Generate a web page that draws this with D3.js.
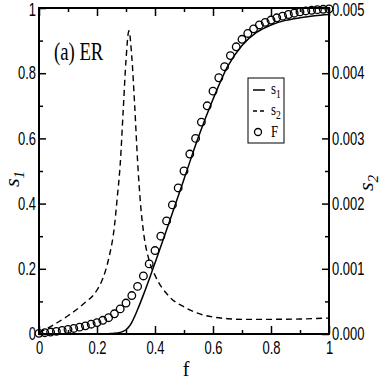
<!DOCTYPE html>
<html>
<head>
<meta charset="utf-8">
<script src="https://cdn.jsdelivr.net/npm/d3@7"></script>
<style>
  body { margin: 0; background: #fff; }
  svg { display: block; font-family: "Liberation Serif", "DejaVu Serif", serif; }
</style>
</head>
<body>
<div id="chart"></div>
<script>
// s1 (solid line, left axis)
const s1F = [0, 0.2, 0.24, 0.26, 0.28, 0.29, 0.30, 0.31, 0.32, 0.34, 0.36, 0.38, 0.40, 0.45, 0.50,
             0.55, 0.60, 0.65, 0.70, 0.75, 0.80, 0.85, 0.90, 0.95, 1.0];
const s1Val = [0, 0, 0.001, 0.002, 0.005, 0.008, 0.013, 0.022, 0.036, 0.075, 0.12, 0.168, 0.218, 0.345, 0.475,
               0.605, 0.72, 0.82, 0.885, 0.925, 0.948, 0.962, 0.97, 0.976, 0.98];

// s2 (dashed line, right axis)
const s2F = [0, 0.05, 0.10, 0.15, 0.20, 0.22, 0.24, 0.26, 0.27, 0.28, 0.29, 0.30, 0.31, 0.32, 0.33, 0.34,
             0.35, 0.36, 0.38, 0.40, 0.45, 0.50, 0.55, 0.60, 0.65, 0.70, 0.80, 0.90, 1.0];
const s2Val = [0.00002, 0.00014, 0.00028, 0.00045, 0.000675, 0.00085, 0.00115, 0.00165, 0.0021, 0.0026,
               0.0034, 0.0042, 0.00465, 0.00425, 0.0035, 0.00265, 0.002, 0.001575, 0.001125, 0.0009,
               0.00057, 0.000415, 0.000315, 0.00026, 0.000235, 0.000225, 0.000225, 0.00023, 0.000245];

// F (open circles, left axis)
const FF = [0, 0.02, 0.04, 0.06, 0.08, 0.10, 0.12, 0.14, 0.16, 0.18, 0.20, 0.22, 0.24, 0.26, 0.28, 0.30,
            0.32, 0.34, 0.36, 0.38, 0.40, 0.42, 0.44, 0.46, 0.48, 0.50, 0.52, 0.54, 0.56, 0.58, 0.60,
            0.62, 0.64, 0.66, 0.68, 0.70, 0.72, 0.74, 0.76, 0.78, 0.80, 0.82, 0.84, 0.86, 0.88, 0.90,
            0.92, 0.94, 0.96, 0.98, 1.0];
const FVal = [0.002, 0.004, 0.006, 0.008, 0.011, 0.014, 0.017, 0.021, 0.025, 0.030, 0.035, 0.042, 0.050,
              0.062, 0.077, 0.095, 0.118, 0.146, 0.178, 0.215, 0.256, 0.300, 0.347, 0.396, 0.448, 0.500,
              0.552, 0.600, 0.650, 0.700, 0.745, 0.786, 0.820, 0.854, 0.881, 0.904, 0.922, 0.936, 0.948,
              0.956, 0.963, 0.970, 0.975, 0.980, 0.984, 0.988, 0.991, 0.993, 0.995, 0.996, 0.997];

// ticks
const xTicks = [0, 0.2, 0.4, 0.6, 0.8, 1];
const xTickLabels = ['0', '0.2', '0.4', '0.6', '0.8', '1'];
const xMinor = [0.1, 0.3, 0.5, 0.7, 0.9];
const yTicks = [0, 0.2, 0.4, 0.6, 0.8, 1];
const yTickLabels = ['0', '0.2', '0.4', '0.6', '0.8', '1'];
const yMinor = [0.1, 0.3, 0.5, 0.7, 0.9];
const y2Ticks = [0, 0.001, 0.002, 0.003, 0.004, 0.005];
const y2TickLabels = ['0.000', '0.001', '0.002', '0.003', '0.004', '0.005'];
const y2Minor = [0.0005, 0.0015, 0.0025, 0.0035, 0.0045];

const margin = {top: 8, right: 53, bottom: 48, left: 39};
const width = 382 - margin.left - margin.right;
const height = 382 - margin.top - margin.bottom;
const squeeze = 0.72;

const svg = d3.select('#chart')
    .append('svg')
    .attr('width', 382)
    .attr('height', 382)
    .append('g')
    .attr('transform', `translate(${margin.left},${margin.top})`);

const x = d3.scaleLinear().domain([0, 1]).range([0, width]);
const y = d3.scaleLinear().domain([0, 1]).range([height, 0]);
const y2 = d3.scaleLinear().domain([0, 0.005]).range([height, 0]);

function styleAxis(g) {
    g.select('.domain').remove();
    g.selectAll('line').attr('stroke', '#000').attr('stroke-width', 1.5);
    g.selectAll('text').attr('fill', '#000').style('font-size', '18px');
}

// bottom axis
svg.append('g')
    .attr('transform', `translate(0,${height})`)
    .call(d3.axisBottom(x).tickValues(xTicks).tickFormat((d, i) => xTickLabels[i]).tickSize(-8).tickPadding(7))
    .call(styleAxis)
    .selectAll('text').attr('transform', `scale(${squeeze},1)`);
svg.append('g')
    .attr('transform', `translate(0,${height})`)
    .call(d3.axisBottom(x).tickValues(xMinor).tickFormat('').tickSize(-4))
    .call(styleAxis);

// top axis (ticks only)
svg.append('g')
    .call(d3.axisTop(x).tickValues(xTicks).tickFormat('').tickSize(-8))
    .call(styleAxis);
svg.append('g')
    .call(d3.axisTop(x).tickValues(xMinor).tickFormat('').tickSize(-4))
    .call(styleAxis);

// left axis
svg.append('g')
    .call(d3.axisLeft(y).tickValues(yTicks).tickFormat((d, i) => yTickLabels[i]).tickSize(-7))
    .call(styleAxis)
    .selectAll('text')
    .attr('x', -3 / squeeze)
    .attr('y', d => d === 1 ? 2 : 0)
    .attr('transform', `scale(${squeeze},1)`);
svg.append('g')
    .call(d3.axisLeft(y).tickValues(yMinor).tickFormat('').tickSize(-4))
    .call(styleAxis);

// right axis
svg.append('g')
    .attr('transform', `translate(${width},0)`)
    .call(d3.axisRight(y2).tickValues(y2Ticks).tickFormat((d, i) => y2TickLabels[i]).tickSize(-7))
    .call(styleAxis)
    .selectAll('text')
    .attr('x', 3 / squeeze)
    .attr('y', d => d === 0.005 ? 2 : 0)
    .attr('transform', `scale(${squeeze},1)`);
svg.append('g')
    .attr('transform', `translate(${width},0)`)
    .call(d3.axisRight(y2).tickValues(y2Minor).tickFormat('').tickSize(-4))
    .call(styleAxis);

// frame
svg.append('rect')
    .attr('width', width)
    .attr('height', height)
    .attr('fill', 'none')
    .attr('stroke', '#000')
    .attr('stroke-width', 2);

// s2 dashed
const s2Data = s2F.map((f, i) => [f, s2Val[i]]);
svg.append('path')
    .datum(s2Data)
    .attr('fill', 'none')
    .attr('stroke', '#000')
    .attr('stroke-width', 1.4)
    .attr('stroke-dasharray', '6,4')
    .attr('d', d3.line().x(d => x(d[0])).y(d => y2(d[1])).curve(d3.curveMonotoneX));

// s1 solid
const s1Data = s1F.map((f, i) => [f, s1Val[i]]);
svg.append('path')
    .datum(s1Data)
    .attr('fill', 'none')
    .attr('stroke', '#000')
    .attr('stroke-width', 1.5)
    .attr('d', d3.line().x(d => x(d[0])).y(d => y(d[1])).curve(d3.curveMonotoneX));

// F circles
svg.selectAll('.dot')
    .data(FF.map((f, i) => [f, FVal[i]]))
    .enter()
    .append('circle')
    .attr('class', 'dot')
    .attr('cx', d => x(d[0]))
    .attr('cy', d => y(d[1]))
    .attr('r', 3.8)
    .attr('fill', 'none')
    .attr('stroke', '#000')
    .attr('stroke-width', 1.3);

// panel label
svg.append('text')
    .attr('transform', `translate(15,52) scale(${squeeze},1)`)
    .style('font-size', '26px')
    .text('(a) ER');

// legend
const legend = svg.append('g').attr('transform', 'translate(209,70)');
legend.append('rect')
    .attr('width', 36).attr('height', 65)
    .attr('fill', '#fff').attr('stroke', '#000').attr('stroke-width', 1);
legend.append('line').attr('x1', 5).attr('x2', 17).attr('y1', 12).attr('y2', 12)
    .attr('stroke', '#000').attr('stroke-width', 1.5);
legend.append('line').attr('x1', 5).attr('x2', 17).attr('y1', 33).attr('y2', 33)
    .attr('stroke', '#000').attr('stroke-width', 1.4).attr('stroke-dasharray', '4,3');
legend.append('circle').attr('cx', 10).attr('cy', 54).attr('r', 3.5)
    .attr('fill', 'none').attr('stroke', '#000').attr('stroke-width', 1.3);
const legendItems = [['s', '1', 16], ['s', '2', 37], ['F', '', 59]];
legendItems.forEach(([main, sub, yy]) => {
    const t = legend.append('text')
        .attr('transform', `translate(23,${yy}) scale(0.8,1)`)
        .style('font-size', '16px');
    t.append('tspan').text(main);
    if (sub) t.append('tspan').attr('dy', 4).style('font-size', '12px').text(sub);
});

// axis titles
svg.append('text')
    .attr('x', width / 2 + 2)
    .attr('y', height + 42)
    .attr('text-anchor', 'middle')
    .style('font-size', '20px')
    .text('f');

const s1Label = svg.append('text')
    .attr('transform', `translate(-20,${height / 2 + 8}) rotate(-90)`)
    .attr('text-anchor', 'middle')
    .style('font-size', '22px')
    .style('font-style', 'italic');
s1Label.append('tspan').text('s');
s1Label.append('tspan').attr('dy', 5).style('font-size', '15px').text('1');

const s2Label = svg.append('text')
    .attr('transform', `translate(${width + 44},${height / 2 + 12}) rotate(-90)`)
    .attr('text-anchor', 'middle')
    .style('font-size', '22px')
    .style('font-style', 'italic');
s2Label.append('tspan').text('s');
s2Label.append('tspan').attr('dy', 5).style('font-size', '15px').text('2');
</script>
</body>
</html>
